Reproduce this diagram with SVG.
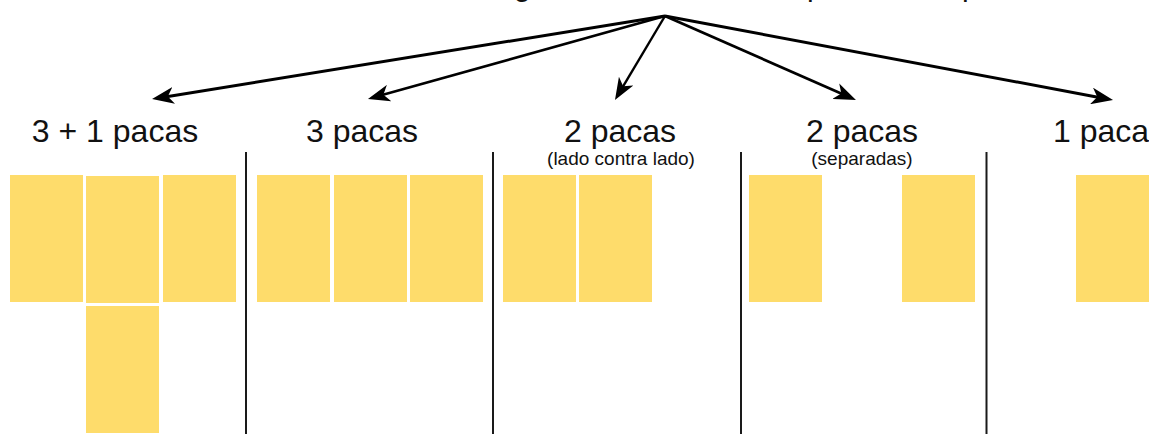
<svg xmlns="http://www.w3.org/2000/svg" width="1149" height="434" viewBox="0 0 1149 434">
<defs>
<style>
.bale{fill:#FEDC6B}
.div{stroke:#1a1a1a;stroke-width:2}
.big{font-family:"Liberation Sans",Arial,sans-serif;font-size:32px;fill:#111;text-anchor:middle}
.small{font-family:"Liberation Sans",Arial,sans-serif;font-size:19px;fill:#111;text-anchor:middle}
.top{font-family:"Liberation Sans",Arial,sans-serif;font-size:30px;fill:#111}
.arr{stroke:#000;fill:none;stroke-linecap:butt}
</style>
<marker id="ah" viewBox="0 0 22 17" refX="12" refY="8.5" markerWidth="22" markerHeight="17" markerUnits="userSpaceOnUse" orient="auto">
<path d="M0,0 L22,8.5 L0,17 L6,8.5 Z" fill="#000"/>
</marker>
</defs>
<rect width="1149" height="434" fill="#fff"/>
<g id="title-fragments">
<text class="top" x="514" y="-4.5">g</text>
<text class="top" x="807" y="-4.5">p</text>
<text class="top" x="962" y="-4.5">p</text>
</g>
<g id="connectors">
<line class="arr" x1="665" y1="16" x2="161.9" y2="97.4" stroke-width="3" marker-end="url(#ah)"/>
<line class="arr" x1="665" y1="16" x2="377.6" y2="96.3" stroke-width="2.6" marker-end="url(#ah)"/>
<line class="arr" x1="665" y1="16" x2="620.1" y2="91.4" stroke-width="2.4" marker-end="url(#ah)"/>
<line class="arr" x1="665" y1="16" x2="846.8" y2="96" stroke-width="2.8" marker-end="url(#ah)"/>
<line class="arr" x1="665" y1="16" x2="1103.2" y2="98.2" stroke-width="3" marker-end="url(#ah)"/>
</g>
<g id="dividers">
<line class="div" x1="246" y1="152" x2="246" y2="434"/>
<line class="div" x1="493" y1="152" x2="493" y2="434"/>
<line class="div" x1="741" y1="152" x2="741" y2="434"/>
<line class="div" x1="986.5" y1="152" x2="986.5" y2="434"/>
</g>
<g id="group-3plus1">
<text class="big" x="115" y="142">3 + 1 pacas</text>
<rect class="bale" x="10" y="175" width="73" height="127"/>
<rect class="bale" x="86" y="176" width="73" height="127"/>
<rect class="bale" x="163" y="175" width="73" height="127"/>
<rect class="bale" x="86" y="306" width="73" height="127"/>
</g>
<g id="group-3">
<text class="big" x="362" y="142">3 pacas</text>
<rect class="bale" x="257" y="175" width="73" height="127"/>
<rect class="bale" x="334" y="175" width="73" height="127"/>
<rect class="bale" x="410" y="175" width="73" height="127"/>
</g>
<g id="group-2-lado">
<text class="big" x="620" y="142">2 pacas</text>
<text class="small" x="621" y="165">(lado contra lado)</text>
<rect class="bale" x="503" y="175" width="73" height="127"/>
<rect class="bale" x="579" y="175" width="73" height="127"/>
</g>
<g id="group-2-separadas">
<text class="big" x="862" y="142">2 pacas</text>
<text class="small" x="862" y="165">(separadas)</text>
<rect class="bale" x="749" y="175" width="73" height="127"/>
<rect class="bale" x="902" y="175" width="73" height="127"/>
</g>
<g id="group-1">
<text class="big" x="1053" y="142" style="text-anchor:start">1 paca</text>
<rect class="bale" x="1076" y="175" width="73" height="127"/>
</g>
</svg>
